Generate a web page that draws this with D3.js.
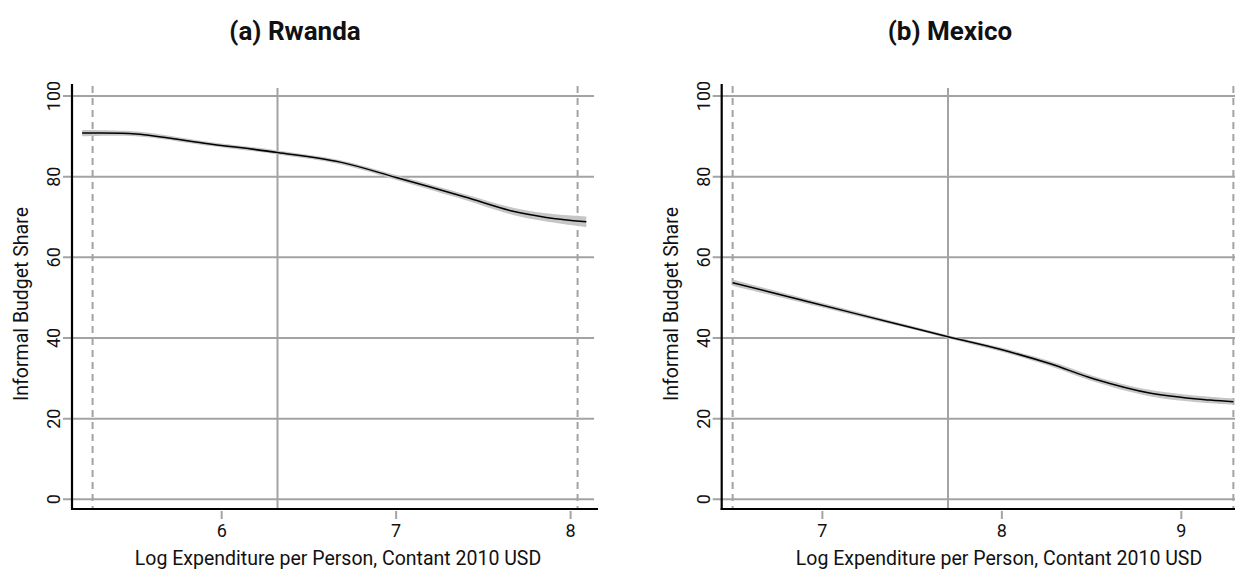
<!DOCTYPE html>
<html lang="en">
<head>
<meta charset="UTF-8" />
<title>Informal Budget Share</title>
<script src="https://d3js.org/d3.v7.min.js"></script>
<style>
  body { margin: 0; background: #fff; }
  text { font-family: Roboto, "Noto Sans", sans-serif; fill: #111; }
  .title { font-size: 26px; font-weight: bold; }
  .axis-title { font-size: 19.5px; }
  .tick-label { font-size: 18px; }
</style>
</head>
<body>
<div id="chart"></div>
<script>
// Rwanda: fitted curve and confidence half-width
const rwandaX = [5.20, 5.51, 5.90, 6.32, 6.68, 7.00, 7.39, 7.67, 7.86, 8.09];
const rwandaY = [90.8, 90.6, 88.3, 86.0, 83.6, 79.8, 75.0, 71.4, 69.9, 68.8];
const rwandaCI = [0.8, 0.6, 0.5, 0.5, 0.5, 0.6, 0.7, 0.9, 1.0, 1.3];
const rwandaTicks = [6, 7, 8];
const rwandaSolid = [6.32];
const rwandaDashed = [5.26, 8.04];

// Mexico
const mexicoX = [6.50, 6.85, 7.18, 7.45, 7.70, 7.99, 8.27, 8.51, 8.83, 9.16, 9.29];
const mexicoY = [53.7, 49.8, 46.1, 43.1, 40.3, 37.2, 33.6, 29.9, 26.3, 24.6, 24.2];
const mexicoCI = [0.8, 0.6, 0.5, 0.4, 0.4, 0.5, 0.6, 0.7, 0.8, 0.8, 0.8];
const mexicoTicks = [7, 8, 9];
const mexicoSolid = [7.70];
const mexicoDashed = [6.50, 9.29];

const yTicks = [0, 20, 40, 60, 80, 100];
const xLabel = "Log Expenditure per Person, Contant 2010 USD";
const yLabel = "Informal Budget Share";

const svg = d3.select("#chart").append("svg")
  .attr("width", 1235)
  .attr("height", 572);

function drawPanel(p) {
  const x = d3.scaleLinear().domain(p.xDomain).range([p.left, p.right]);
  const y = d3.scaleLinear().domain([0, 100]).range([499.3, 96]);
  const top = 84, bottom = 509;
  const g = svg.append("g");

  // horizontal grid lines (also act as y ticks)
  g.selectAll(".hgrid").data(yTicks).enter().append("line")
    .attr("x1", p.left - 9).attr("x2", p.gridEnd)
    .attr("y1", d => y(d)).attr("y2", d => y(d))
    .attr("stroke", "#a3a3a3").attr("stroke-width", 2);

  // vertical reference lines
  g.selectAll(".vsolid").data(p.solid).enter().append("line")
    .attr("x1", d => x(d)).attr("x2", d => x(d))
    .attr("y1", 88).attr("y2", bottom)
    .attr("stroke", "#a3a3a3").attr("stroke-width", 2);
  g.selectAll(".vdash").data(p.dashed).enter().append("line")
    .attr("x1", d => x(d)).attr("x2", d => x(d))
    .attr("y1", 86).attr("y2", bottom)
    .attr("stroke", "#a3a3a3").attr("stroke-width", 2)
    .attr("stroke-dasharray", "7,5");

  // confidence band and fitted line
  const pts = p.xs.map((v, i) => ({ x: v, y: p.ys[i], ci: p.ci[i] }));
  g.append("path").datum(pts)
    .attr("fill", "#c6c6c6")
    .attr("d", d3.area().curve(d3.curveCatmullRom)
      .x(d => x(d.x)).y0(d => y(d.y - d.ci)).y1(d => y(d.y + d.ci)));
  g.append("path").datum(pts)
    .attr("fill", "none").attr("stroke", "#000").attr("stroke-width", 1.5)
    .attr("d", d3.line().curve(d3.curveCatmullRom).x(d => x(d.x)).y(d => y(d.y)));

  // axes
  g.append("line")
    .attr("x1", p.left).attr("x2", p.left).attr("y1", top).attr("y2", bottom + 1)
    .attr("stroke", "#000").attr("stroke-width", 2.2);
  g.append("line")
    .attr("x1", p.left - 1).attr("x2", p.axisEnd).attr("y1", bottom).attr("y2", bottom)
    .attr("stroke", "#000").attr("stroke-width", 2.2);

  // x ticks
  g.selectAll(".xtick").data(p.ticks).enter().append("line")
    .attr("x1", d => x(d)).attr("x2", d => x(d))
    .attr("y1", 511).attr("y2", 519)
    .attr("stroke", "#a3a3a3").attr("stroke-width", 2);
  g.selectAll(".xlab").data(p.ticks).enter().append("text")
    .attr("class", "tick-label")
    .attr("x", d => x(d)).attr("y", 537)
    .attr("text-anchor", "middle")
    .text(d => d);

  // y tick labels, rotated
  g.selectAll(".ylab").data(yTicks).enter().append("text")
    .attr("class", "tick-label")
    .attr("transform", d => `translate(${p.left - 12},${y(d)}) rotate(-90)`)
    .attr("text-anchor", "middle")
    .text(d => d);

  // titles
  g.append("text").attr("class", "title")
    .attr("x", p.titleX).attr("y", 40)
    .attr("text-anchor", "middle").text(p.title);
  g.append("text").attr("class", "axis-title")
    .attr("x", p.xTitleX).attr("y", 565)
    .attr("text-anchor", "middle").text(xLabel);
  g.append("text").attr("class", "axis-title")
    .attr("transform", `translate(${p.left - 44},304) rotate(-90)`)
    .attr("text-anchor", "middle").text(yLabel);
}

drawPanel({
  title: "(a) Rwanda", titleX: 295, xTitleX: 338,
  left: 72, right: 598, gridEnd: 594, axisEnd: 598, xDomain: [5.142, 8.157],
  xs: rwandaX, ys: rwandaY, ci: rwandaCI,
  ticks: rwandaTicks, solid: rwandaSolid, dashed: rwandaDashed
});
drawPanel({
  title: "(b) Mexico", titleX: 950, xTitleX: 999,
  left: 721.7, right: 1235, gridEnd: 1235, axisEnd: 1235, xDomain: [6.439, 9.299],
  xs: mexicoX, ys: mexicoY, ci: mexicoCI,
  ticks: mexicoTicks, solid: mexicoSolid, dashed: mexicoDashed
});
</script>
</body>
</html>
